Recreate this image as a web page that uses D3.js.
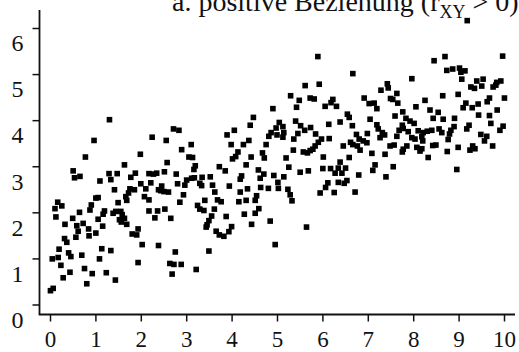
<!DOCTYPE html>
<html>
<head>
<meta charset="utf-8">
<script src="https://cdn.jsdelivr.net/npm/d3@7"></script>
<style>
  html, body { margin: 0; padding: 0; background: #fff; }
  svg { display: block; }
  text { font-family: "Liberation Serif", "Times New Roman", serif; fill: #111; }
</style>
</head>
<body>
<svg id="chart" width="519" height="352"></svg>
<script>
// ---- data ----
const xTicks = [0, 1, 2, 3, 4, 5, 6, 7, 8, 9, 10];
const yTicks = [0, 1, 2, 3, 4, 5, 6];
const titleMain = "a. positive Beziehung (r";
const titleSub = "XY";
const titleEnd = " > 0)";

const xs = [
1.31,0.97,2.25,0.78,1.99,1.64,0.51,0.54,0.66,1.30,1.48,1.34,1.10,1.78,1.88,2.18,2.28,2.35,2.00,2.22,
1.42,1.76,1.86,1.73,2.11,2.39,1.67,2.08,2.18,1.01,1.06,1.69,0.17,0.26,0.11,1.50,0.91,0.88,0.65,1.20,
1.17,1.39,1.45,1.56,1.59,2.18,2.37,0.13,0.50,1.06,1.53,1.64,1.57,2.31,0.33,0.59,0.73,1.16,1.69,0.62,
0.85,1.01,1.94,0.57,0.86,1.81,1.91,0.32,0.37,2.03,2.39,0.20,1.14,1.34,0.41,0.05,0.18,0.46,0.70,1.09,
1.94,0.24,0.76,0.44,0.93,1.24,0.29,1.44,0.81,0.01,0.07,
4.91,4.48,4.06,4.41,3.90,5.05,4.98,4.87,4.82,5.00,2.72,2.84,2.56,4.38,3.99,4.26,4.76,3.11,2.90,4.14,
4.09,4.02,4.43,4.68,4.72,3.06,3.14,2.58,3.20,3.17,3.73,3.86,4.32,4.59,4.71,4.93,2.52,2.78,3.01,3.12,
3.18,3.35,2.81,2.97,3.30,3.34,3.53,3.58,3.95,4.22,4.19,4.63,2.46,2.44,2.61,2.51,5.02,5.03,3.63,4.19,
4.35,4.64,4.81,4.55,2.94,2.86,3.41,3.69,3.77,4.16,4.32,4.52,3.25,3.30,3.39,3.62,4.60,2.53,2.66,3.56,
3.88,4.28,4.52,3.50,3.46,3.44,4.00,3.94,4.44,4.85,3.66,3.73,3.83,2.76,3.50,4.96,2.64,2.73,2.89,3.22,
2.69,
5.90,6.67,5.62,5.93,7.43,7.45,7.29,7.64,5.30,5.49,5.73,5.82,6.23,6.19,6.06,6.31,6.92,7.03,7.14,7.20,
7.50,7.55,7.66,5.43,6.55,6.59,7.05,7.60,5.41,6.14,6.39,6.66,7.20,7.23,5.52,5.13,5.15,5.13,5.61,5.74,
5.85,5.46,5.37,5.98,6.15,6.75,6.99,6.81,6.90,6.98,7.32,7.37,7.27,7.69,7.64,5.91,5.84,5.79,6.62,6.67,
6.77,6.83,6.46,5.36,5.58,5.67,5.73,6.02,6.59,7.09,7.38,7.49,7.58,5.20,5.26,5.15,5.51,5.69,6.01,6.18,
6.35,6.39,6.51,6.28,6.43,6.80,7.16,7.11,7.56,7.40,5.24,5.29,5.33,5.95,6.07,6.12,6.26,6.35,6.48,6.54,
6.72,5.65,
8.70,9.97,8.46,8.74,8.87,9.02,9.05,9.14,7.97,9.07,9.40,9.54,9.51,9.27,9.35,9.76,9.84,9.93,9.82,8.65,
8.99,8.26,9.68,9.63,10.01,9.16,9.10,9.30,9.43,8.06,8.37,8.55,9.85,7.77,9.44,9.68,7.84,7.93,8.02,8.44,
8.66,8.91,9.71,7.76,7.78,7.89,8.11,8.22,8.31,8.41,8.57,8.63,8.83,8.90,8.80,9.23,9.18,9.91,9.98,7.97,
8.04,8.19,8.21,8.77,9.49,9.62,9.57,7.86,7.78,8.08,8.19,8.43,8.50,8.99,9.31,9.36,9.25,9.75,7.76,8.15,
8.75,8.33,8.96,9.19
];
const ys = [
4.01,3.56,3.63,3.20,3.26,3.03,2.90,2.75,2.78,2.84,2.84,2.71,2.68,2.76,2.85,2.84,2.83,2.85,2.62,2.64,
2.49,2.51,2.49,2.42,2.51,2.49,2.34,2.34,2.27,2.31,2.32,2.26,2.22,2.14,2.08,2.21,2.16,2.05,2.00,2.03,
1.96,1.98,2.02,2.02,1.95,2.03,2.03,1.90,1.87,1.85,1.84,1.87,1.79,1.88,1.74,1.71,1.76,1.70,1.74,1.59,
1.64,1.55,1.64,1.46,1.49,1.53,1.51,1.43,1.35,1.30,1.28,1.20,1.21,1.17,1.12,0.99,1.02,1.04,1.07,0.99,
0.91,0.85,0.78,0.70,0.67,0.69,0.58,0.53,0.45,0.30,0.35,
4.25,4.06,3.78,3.89,3.68,3.95,3.83,3.73,3.65,3.68,3.81,3.78,3.56,3.56,3.47,3.47,3.47,3.47,3.36,3.31,
3.21,3.16,3.20,3.29,3.18,3.20,3.19,3.08,3.01,2.93,2.99,2.90,3.03,2.92,2.83,2.80,2.88,2.83,2.70,2.74,
2.75,2.76,2.62,2.59,2.63,2.58,2.77,2.59,2.57,2.79,2.72,2.74,2.57,2.47,2.44,2.45,2.65,2.52,2.44,2.44,
2.51,2.54,2.52,2.36,2.38,2.22,2.26,2.27,2.23,2.23,2.26,2.26,2.15,2.07,2.04,2.07,2.08,2.07,1.87,1.92,
1.91,1.96,1.98,1.82,1.73,1.68,1.69,1.58,1.74,1.81,1.59,1.51,1.48,1.14,1.16,1.30,0.89,0.87,0.87,0.76,
0.66,
5.38,5.01,4.75,4.78,4.79,4.70,4.65,4.58,4.53,4.43,4.48,4.46,4.45,4.38,4.30,4.30,4.48,4.36,4.37,4.25,
4.47,4.45,4.37,4.28,4.13,4.06,4.02,4.09,3.98,3.91,3.96,3.88,3.90,3.81,3.88,3.86,3.73,3.63,3.78,3.84,
3.70,3.71,3.59,3.59,3.60,3.69,3.71,3.59,3.55,3.51,3.73,3.68,3.62,3.78,3.65,3.52,3.44,3.37,3.52,3.47,
3.44,3.35,3.44,3.35,3.31,3.29,3.34,3.20,3.19,3.28,3.26,3.44,3.46,3.18,2.98,2.77,2.87,2.90,2.95,2.95,
2.96,3.09,2.96,2.85,2.85,2.81,3.03,2.91,2.99,2.77,2.50,2.38,2.25,2.42,2.54,2.64,2.43,2.65,2.63,2.69,
2.44,1.68,
5.38,5.39,5.29,5.08,5.11,5.13,5.04,5.07,4.90,4.89,4.85,4.89,4.74,4.72,4.69,4.72,4.82,4.85,4.76,4.53,
4.56,4.43,4.48,4.40,4.48,4.37,4.27,4.27,4.35,4.29,4.22,4.17,4.22,4.18,4.11,4.10,4.04,3.98,3.93,4.04,
4.02,4.04,3.93,3.89,3.82,3.75,3.77,3.73,3.76,3.78,3.81,3.73,3.78,3.86,3.70,3.89,3.81,3.78,3.87,3.62,
3.59,3.64,3.55,3.58,3.69,3.65,3.55,3.44,3.37,3.41,3.38,3.45,3.46,3.41,3.44,3.38,3.35,3.44,3.31,3.33,
3.32,3.19,2.93,6.16
];

// ---- layout ----
const W = 519, H = 352;
const svg = d3.select("#chart");
svg.append("rect").attr("width", W).attr("height", H).attr("fill", "#fff");

const x = d3.scaleLinear().domain([0, 10]).range([50, 504]);
const y = d3.scaleLinear().domain([0, 6]).range([304.5, 28]);
const axisY0 = 314.5, axisX0 = 39.5;
const fmt = d3.format("d");

// title (partially above the top edge, as in the reference)
const title = svg.append("text")
  .attr("x", 172).attr("y", 10.5)
  .style("font-size", "28px");
title.append("tspan").text(titleMain);
title.append("tspan").attr("dy", 7).style("font-size", "18px").text(titleSub);
title.append("tspan").attr("dy", -7).text(titleEnd);

// axes
const xAxis = d3.axisBottom(x).tickValues(xTicks).tickFormat(fmt)
  .tickSize(7).tickSizeOuter(0).tickPadding(9);
const gx = svg.append("g").attr("transform", `translate(0,${axisY0})`).call(xAxis);
gx.select(".domain").remove();
gx.selectAll(".tick line").attr("stroke", "#111").attr("stroke-width", 1.5);
gx.selectAll(".tick text").style("font-size", "23px").attr("fill", "#111");

const yAxis = d3.axisLeft(y).tickValues(yTicks).tickFormat(fmt)
  .tickSize(7).tickSizeOuter(0).tickPadding(9);
const gy = svg.append("g").attr("transform", `translate(${axisX0},0)`).call(yAxis);
gy.select(".domain").remove();
gy.selectAll(".tick line").attr("stroke", "#111").attr("stroke-width", 1.5);
gy.selectAll(".tick text").style("font-size", "24px").attr("fill", "#111").attr("dy", "0.95em");

// axis lines (L-shaped frame)
svg.append("line").attr("x1", axisX0 - 0.75).attr("x2", 515).attr("y1", axisY0).attr("y2", axisY0)
  .attr("stroke", "#111").attr("stroke-width", 1.8);
svg.append("line").attr("x1", axisX0).attr("x2", axisX0).attr("y1", 10).attr("y2", axisY0)
  .attr("stroke", "#111").attr("stroke-width", 1.8);

// points
const pts = xs.map((v, i) => ({ x: v, y: ys[i] }));
const s = 5.6;
svg.append("g").selectAll("rect").data(pts).join("rect")
  .attr("x", d => x(d.x) - s / 2)
  .attr("y", d => y(d.y) - s / 2)
  .attr("width", s).attr("height", s)
  .attr("fill", "#000");
</script>
</body>
</html>
